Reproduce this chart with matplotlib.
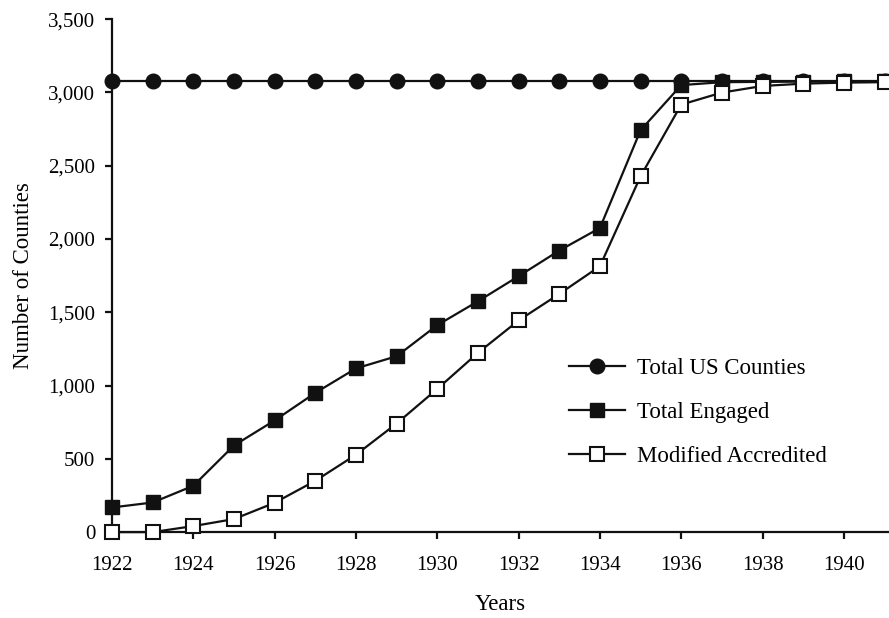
import numpy as np
import matplotlib.pyplot as plt

plt.rcParams['font.family'] = ['Liberation Serif', 'DejaVu Serif']

years = list(range(1922, 1942))

# total number of US counties (flat)
total_us = [3075] * len(years)

total_engaged = [168, 202, 316, 591, 762, 950, 1117, 1200, 1412, 1575,
                 1746, 1921, 2075, 2742, 3050, 3070, 3072, 3074, 3075, 3075]

modified_accredited = [0, 0, 41, 89, 200, 350, 528, 741, 977, 1223,
                       1444, 1625, 1814, 2428, 2917, 2999, 3044, 3060, 3067, 3070]

y_ticks = [0, 500, 1000, 1500, 2000, 2500, 3000, 3500]
x_ticks = list(range(1922, 1941, 2))

fs = 15
fs_lab = 16.5

fig = plt.figure(figsize=(8.89, 6.18), dpi=100)
ax = fig.add_axes([0.126, 0.139, 0.874, 0.830])

lw = 1.6
ax.plot(years, total_us, color='#111111', lw=lw, marker='o', ms=10.5,
        mfc='#111111', mec='#111111', clip_on=False, zorder=3,
        label='Total US Counties')
ax.plot(years, total_engaged, color='#111111', lw=lw, marker='s', ms=10,
        mfc='#111111', mec='#111111', clip_on=False, zorder=4,
        label='Total Engaged')
ax.plot(years, modified_accredited, color='#111111', lw=lw, marker='s', ms=10,
        mfc='white', mec='#111111', mew=1.5, clip_on=False, zorder=5,
        label='Modified Accredited')

ax.set_xlim(1922, 1941.11)
ax.set_ylim(0, 3500)
ax.set_xticks(x_ticks)
ax.set_yticks(y_ticks)
ax.set_yticklabels(['{:,}'.format(v) for v in y_ticks])

for s in ['top', 'right']:
    ax.spines[s].set_visible(False)
for s in ['left', 'bottom']:
    ax.spines[s].set_linewidth(1.6)
    ax.spines[s].set_color('#111111')

ax.tick_params(axis='both', direction='out', length=5, width=1.6,
               color='#111111', labelsize=fs)
ax.tick_params(axis='x', pad=12)
ax.tick_params(axis='y', pad=7)

ax.set_xlabel('Years', fontsize=fs_lab, labelpad=14)
ax.set_ylabel('Number of Counties', fontsize=fs_lab, labelpad=10)

ax.legend(loc='upper left', bbox_to_anchor=(0.576, 0.358), frameon=False,
          fontsize=fs_lab, handlelength=2.45, labelspacing=1.0,
          handletextpad=0.52, borderaxespad=0)

fig.savefig('out.png', dpi=100)
